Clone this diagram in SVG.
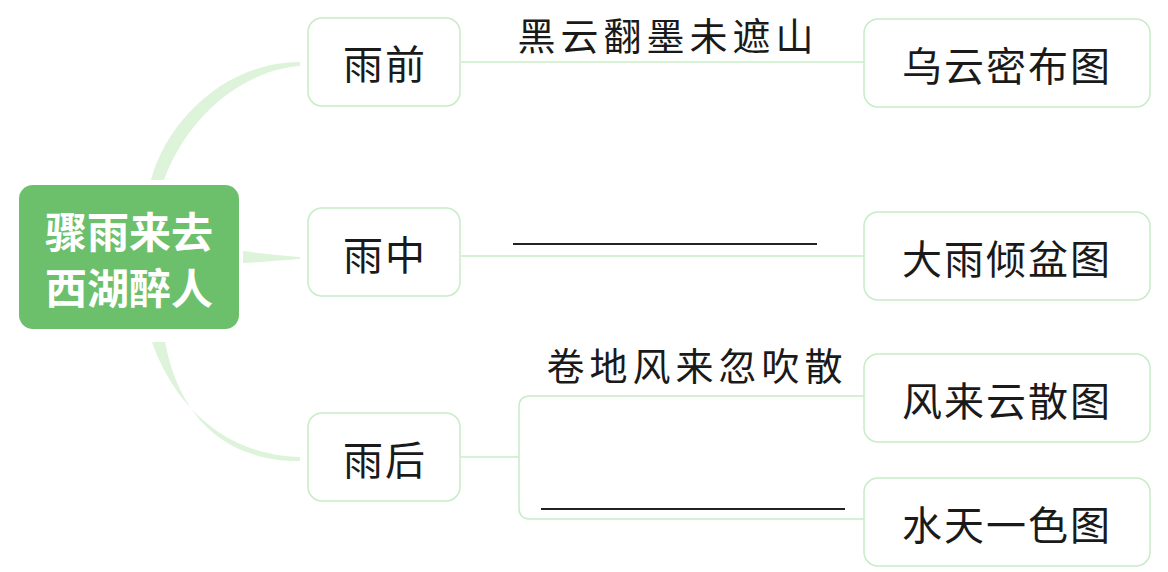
<svg xmlns="http://www.w3.org/2000/svg" width="1168" height="572" viewBox="0 0 1168 572">
<style>
.box{fill:#ffffff;stroke:#c8ecc6;stroke-width:1.5}
.t{font-family:"Noto Sans CJK SC","Noto Sans",sans-serif;font-size:40px;fill:#1a1a1a;text-anchor:middle;dominant-baseline:central;letter-spacing:2px}
.poem{font-family:"Noto Sans CJK SC","Noto Sans",sans-serif;font-size:38px;fill:#1a1a1a;text-anchor:middle;dominant-baseline:central;letter-spacing:5px}
.root{font-family:"Noto Sans CJK SC","Noto Sans",sans-serif;font-size:42px;font-weight:bold;fill:#ffffff;text-anchor:middle;dominant-baseline:central}
.ln{fill:none;stroke:#c8ecc6;stroke-width:1.5}
.br{fill:#ddf3da}
.ans{stroke:#222222;stroke-width:1.8}
</style>
<rect width="1168" height="572" fill="#ffffff"/>
<g id="connectors">
<path class="br" d="M151,180 C168,118 228,62 300,62 L300,66 C236,71 184,124 164,180 Z"/>
<path class="br" d="M243,251 C265,254 285,256 300,257 L300,259 C285,260 265,262 243,263 Z"/>
<path class="br" d="M152,342 C172,400 220,455 300,457 L300,461 C218,461 178,410 165,342 Z"/>
<line class="ln" x1="461" y1="62" x2="864" y2="62"/>
<line class="ln" x1="461" y1="256" x2="864" y2="256"/>
<line class="ln" x1="461" y1="457" x2="519" y2="457"/>
<path class="ln" d="M864,396 L530,396 Q519,396 519,407 L519,508 Q519,519 530,519 L864,519"/>
<line class="ans" x1="513" y1="244" x2="817" y2="244"/>
<line class="ans" x1="541" y1="509" x2="845" y2="509"/>
</g>
<g id="root">
<rect x="19" y="185" width="220" height="144" rx="14" fill="#6cc06c"/>
<text class="root" x="129" y="229">骤雨来去</text>
<text class="root" x="129" y="285">西湖醉人</text>
</g>
<g id="n-before">
<rect class="box" x="308" y="18" width="152" height="88" rx="14"/>
<text class="t" x="385" y="62">雨前</text>
</g>
<g id="n-during">
<rect class="box" x="308" y="208" width="152" height="88" rx="14"/>
<text class="t" x="385" y="253">雨中</text>
</g>
<g id="n-after">
<rect class="box" x="308" y="413" width="152" height="88" rx="14"/>
<text class="t" x="385" y="458">雨后</text>
</g>
<g id="poem1"><text class="poem" x="668" y="33">黑云翻墨未遮山</text></g>
<g id="poem3"><text class="poem" x="697" y="363">卷地风来忽吹散</text></g>
<g id="r1">
<rect class="box" x="864" y="19" width="286" height="88" rx="14"/>
<text class="t" x="1007" y="64">乌云密布图</text>
</g>
<g id="r2">
<rect class="box" x="864" y="212" width="286" height="88" rx="14"/>
<text class="t" x="1007" y="257">大雨倾盆图</text>
</g>
<g id="r3">
<rect class="box" x="864" y="354" width="286" height="88" rx="14"/>
<text class="t" x="1007" y="399">风来云散图</text>
</g>
<g id="r4">
<rect class="box" x="864" y="478" width="286" height="88" rx="14"/>
<text class="t" x="1007" y="523">水天一色图</text>
</g>
</svg>
